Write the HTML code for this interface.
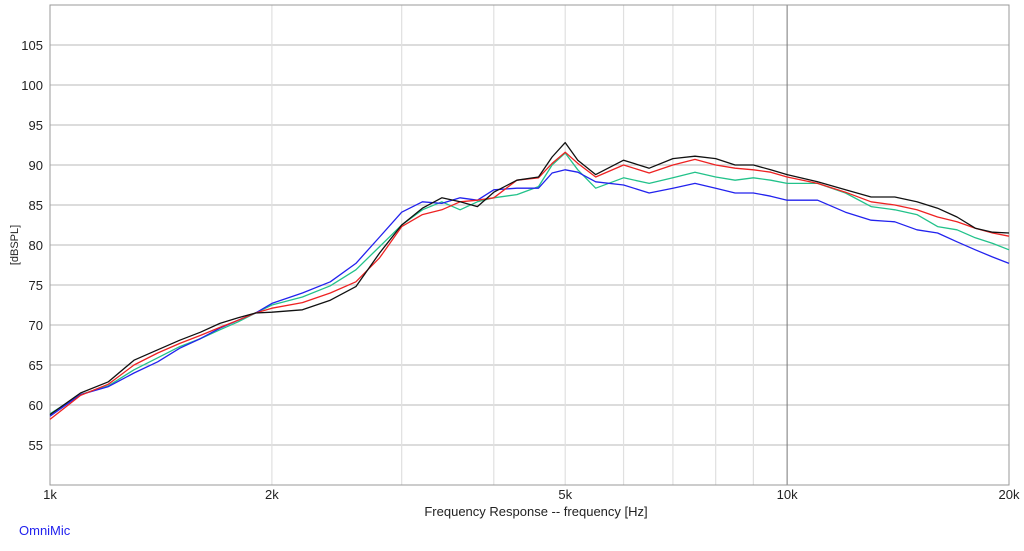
<!DOCTYPE html>
<html><head><meta charset="utf-8"><style>
body{margin:0;background:#fff;width:1024px;height:546px;overflow:hidden;font-family:"Liberation Sans",Arial,sans-serif}
svg text{font-family:"Liberation Sans",Arial,sans-serif}
</style></head><body>
<svg id="chart" width="1024" height="546" xmlns="http://www.w3.org/2000/svg">
<g id="grid"></g><g id="series"></g><g id="labels"></g>
<text x="536" y="516" text-anchor="middle" font-size="13" fill="#222">Frequency Response -- frequency [Hz]</text>
<text transform="translate(18,245) rotate(-90)" text-anchor="middle" font-size="11" fill="#222">[dBSPL]</text>
<text x="19" y="535" font-size="13" fill="#2222ee">OmniMic</text>
</svg>
<script>
const freqs=[1000,1100,1200,1300,1400,1500,1600,1700,1800,1900,2000,2200,2400,2600,2800,3000,3200,3400,3600,3800,4000,4300,4600,4800,5000,5200,5500,6000,6500,7000,7500,8000,8500,9000,9500,10000,11000,12000,13000,14000,15000,16000,17000,18000,19000,20000];
const blackDb=[58.8,61.5,62.9,65.6,66.9,68.1,69.1,70.2,70.9,71.5,71.6,71.9,73.1,74.8,79.0,82.5,84.6,85.9,85.4,84.8,86.6,88.1,88.5,91.0,92.8,90.6,88.8,90.6,89.6,90.8,91.1,90.8,90.0,90.0,89.4,88.8,87.9,86.9,86.0,86.0,85.4,84.6,83.5,82.1,81.6,81.5];
const redDb=[58.2,61.2,62.6,65.0,66.5,67.7,68.7,69.7,70.6,71.5,72.1,72.8,74.0,75.4,78.4,82.3,83.8,84.4,85.4,85.6,85.9,88.1,88.4,90.2,91.6,90.2,88.5,90.0,89.0,90.0,90.7,90.0,89.6,89.4,89.1,88.5,87.7,86.6,85.4,85.0,84.4,83.5,82.9,82.1,81.5,81.1];
const greenDb=[58.9,61.3,62.4,64.4,65.9,67.3,68.3,69.4,70.4,71.5,72.5,73.5,74.9,76.9,79.8,82.5,84.4,85.4,84.4,85.4,85.9,86.3,87.3,90.0,91.5,89.4,87.1,88.4,87.7,88.4,89.1,88.5,88.1,88.4,88.1,87.7,87.7,86.5,84.8,84.4,83.8,82.3,81.9,80.9,80.2,79.4];
const blueDb=[58.6,61.3,62.3,64.0,65.4,67.1,68.3,69.6,70.6,71.5,72.7,74.0,75.4,77.7,81.0,84.1,85.4,85.2,85.9,85.6,86.9,87.1,87.1,89.0,89.4,89.1,87.9,87.5,86.5,87.1,87.7,87.1,86.5,86.5,86.1,85.6,85.6,84.1,83.1,82.9,81.9,81.5,80.4,79.4,78.5,77.7];
const yTicks=[55,60,65,70,75,80,85,90,95,100,105];
const xTickFreqs=[1000,2000,5000,10000,20000];
const xTickLabels=["1k","2k","5k","10k","20k"];
const gridFreqs=[2000,3000,4000,5000,6000,7000,8000,9000];
const X0=50,X1=1009,Y0=5,Y1=485,DBMAX=110,DBMIN=50;
const xs=f=>X0+(X1-X0)*Math.log10(f/1000)/Math.log10(20);
const ys=d=>Y0+(DBMAX-d)*(Y1-Y0)/(DBMAX-DBMIN);
const NS="http://www.w3.org/2000/svg";
const grid=document.getElementById('grid'),lab=document.getElementById('labels'),ser=document.getElementById('series');
function mk(tag,parent,attrs){const e=document.createElementNS(NS,tag);for(const k in attrs)e.setAttribute(k,attrs[k]);parent.appendChild(e);return e;}
yTicks.forEach(v=>{
  const l=mk('line',grid,{x1:X0,x2:X1,y1:ys(v),y2:ys(v),stroke:'#c8c8c8','stroke-width':1.2});
  
  
  const t=mk('text',lab,{x:43,y:ys(v)+5,'text-anchor':'end','font-size':13,fill:'#222'});
  t.textContent=v;
  
  
});
gridFreqs.forEach(f=>{
  const l=mk('line',grid,{x1:xs(f),x2:xs(f),y1:Y0,y2:Y1,stroke:'#e0e0e0','stroke-width':1.2});
  
  
});
const g10=mk('line',grid,{x1:xs(10000),x2:xs(10000),y1:Y0,y2:Y1,stroke:'#777','stroke-width':1});


const fr=mk('rect',grid,{x:X0,y:Y0,width:X1-X0,height:Y1-Y0,fill:'none',stroke:'#999','stroke-width':1});


xTickFreqs.forEach((f,i)=>{
  const t=mk('text',lab,{x:xs(f),y:499,'text-anchor':'middle','font-size':13,fill:'#222'});
  t.textContent=xTickLabels[i];
  
  
});
function line(vals,color,name){
  const d=vals.map((v,i)=>(i?'L':'M')+xs(freqs[i]).toFixed(1)+','+ys(v).toFixed(1)).join(' ');
  const p=mk('path',ser,{d:d,fill:'none',stroke:color,'stroke-width':1.3,'stroke-linejoin':'round'});
  
  
}
line(greenDb,'#22c28a','series-green');
line(blueDb,'#2222ee','series-blue');
line(redDb,'#ee2222','series-red');
line(blackDb,'#111','series-black');
</script>
</body></html>
